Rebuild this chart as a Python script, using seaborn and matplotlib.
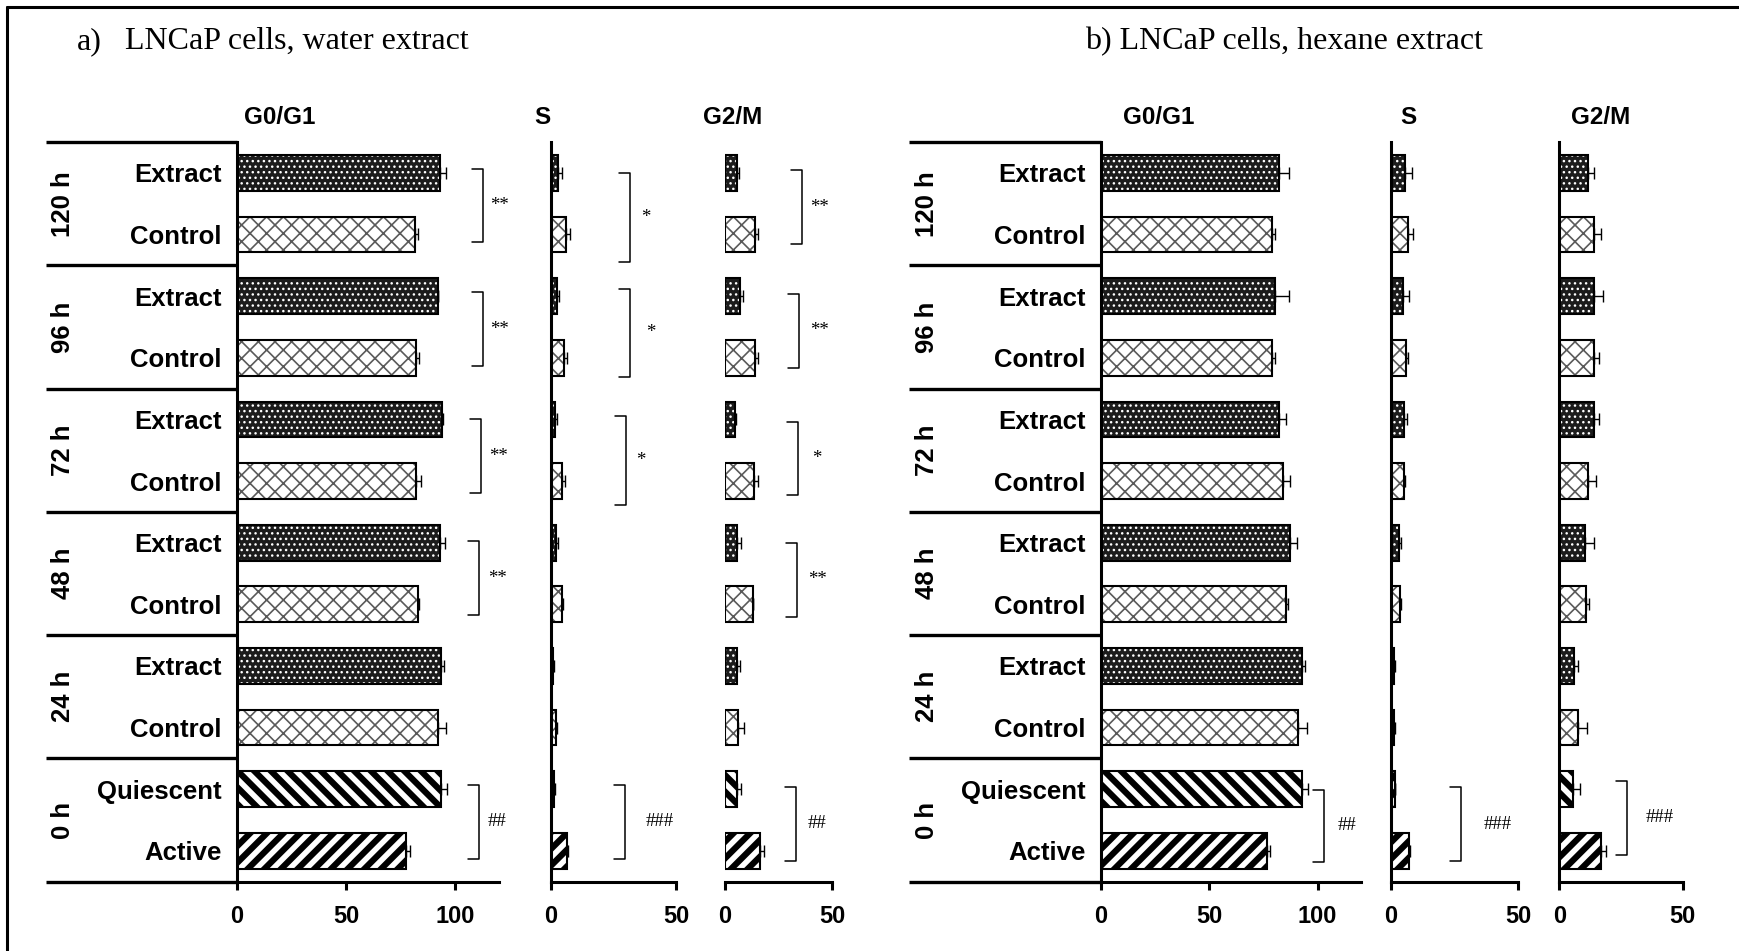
import numpy as np
import pandas as pd
import matplotlib
matplotlib.use("Agg")
import matplotlib.pyplot as plt
import matplotlib.transforms as mtransforms
from matplotlib.patches import Rectangle
import seaborn as sns

# ---------------------------------------------------------------- data
groups = ["120 h", "96 h", "72 h", "48 h", "24 h", "0 h"]
row_labels = ["Extract", "Control"] * 5 + ["Quiescent", "Active"]
row_kind = ["extract", "control"] * 5 + ["quiescent", "active"]
row_ids = [f"{groups[i // 2]} {row_labels[i]}" for i in range(12)]

# % of cells per phase (mean) and SD, rows ordered as row_ids
water_g0g1 = [93.2, 81.5, 92.1, 82.0, 94.2, 82.0, 93.2, 83.0, 93.7, 92.4, 93.7, 77.5]
water_g0g1_sd = [2.8, 1.7, 0.3, 1.5, 0.5, 2.3, 2.3, 0.5, 1.3, 3.5, 2.5, 1.8]
water_s = [2.8, 6.0, 2.4, 5.3, 1.5, 4.4, 2.0, 4.4, 0.9, 1.8, 1.3, 6.4]
water_s_sd = [1.7, 1.7, 0.8, 1.0, 0.9, 1.1, 0.9, 0.5, 0.3, 0.7, 0.4, 0.3]
water_g2m = [5.6, 14.0, 7.1, 13.9, 4.9, 13.4, 5.4, 12.9, 5.7, 6.2, 5.7, 16.5]
water_g2m_sd = [0.8, 1.5, 1.1, 1.7, 0.3, 2.0, 2.0, 0.3, 1.3, 2.6, 2.0, 1.8]

hexane_g0g1 = [82.0, 78.8, 80.5, 78.8, 82.0, 84.0, 87.4, 85.6, 92.8, 91.2, 93.0, 76.8]
hexane_g0g1_sd = [5.0, 1.7, 6.4, 1.7, 3.3, 3.3, 3.0, 0.8, 1.3, 4.0, 2.8, 1.3]
hexane_s = [5.4, 6.5, 4.7, 6.0, 5.1, 5.1, 3.3, 3.7, 1.2, 1.2, 1.4, 7.0]
hexane_s_sd = [2.7, 2.2, 2.5, 0.5, 1.2, 0.5, 0.5, 0.3, 0.3, 0.3, 0.3, 0.4]
hexane_g2m = [11.7, 13.9, 13.9, 14.1, 13.9, 11.6, 10.5, 10.9, 6.1, 7.7, 5.7, 16.8]
hexane_g2m_sd = [2.4, 3.0, 3.9, 2.0, 2.3, 3.2, 3.4, 1.1, 1.4, 3.6, 2.5, 2.0]

# significance brackets: (top row pos, bottom row pos, x, label, label x)
water_g0g1_sig = [(-0.06, 1.12, 112.8, "**", 116.1), (1.94, 3.13, 112.8, "**", 116.1),
                  (4.00, 5.19, 111.9, "**", 115.6), (5.98, 7.17, 111.2, "**", 115.1),
                  (9.93, 11.13, 111.2, "##", 115.1)]
water_s_sig = [(0.00, 1.44, 31.6, "*", 36.0), (1.88, 3.31, 31.6, "*", 38.0),
               (3.95, 5.39, 30.0, "*", 34.0), (9.93, 11.13, 29.6, "###", 37.8)]
water_g2m_sig = [(-0.04, 1.15, 35.8, "**", 39.7), (1.97, 3.16, 34.7, "**", 39.7),
                 (4.04, 5.23, 34.0, "*", 40.6), (6.01, 7.20, 33.5, "**", 38.7),
                 (9.96, 11.16, 33.0, "##", 38.7)]
hexane_g0g1_sig = [(10.01, 11.18, 103.2, "##", 109.4)]
hexane_s_sig = [(9.97, 11.16, 27.4, "###", 36.6)]
hexane_g2m_sig = [(9.87, 11.06, 27.3, "###", 35.1)]

# ---------------------------------------------------------------- style
W, H, DPI = 1739, 951, 100
sns.set_theme(style="white", rc={"axes.edgecolor": "black", "xtick.color": "black",
                                 "ytick.color": "black", "text.color": "black"})
plt.rcParams["font.family"] = ["Liberation Sans", "DejaVu Sans"]
plt.rcParams["font.weight"] = "bold"

fig = plt.figure(figsize=(W / DPI, H / DPI), dpi=DPI)
fig.patch.set_facecolor("white")

AX_TOP, AX_BOT = 142, 881.7          # pixel rows of the plotting band
bottom = 1 - AX_BOT / H
height = (AX_BOT - AX_TOP) / H
SPINE_LW = 2.2


def style_bar(ax, patch, kind):
    x, y = patch.get_xy()
    w, h = patch.get_width(), patch.get_height()
    if kind == "extract":
        patch.set_facecolor("#1c1c1c")
        patch.set_edgecolor("white")
        patch.set_hatch("...")
        hlw = 1.0
    elif kind == "control":
        patch.set_facecolor("white")
        patch.set_edgecolor("#5a5a5a")
        patch.set_hatch("xx")
        hlw = 1.2
    elif kind == "quiescent":
        patch.set_facecolor("white")
        patch.set_edgecolor("black")
        patch.set_hatch("\\\\")
        hlw = 4.5
    else:
        patch.set_facecolor("white")
        patch.set_edgecolor("black")
        patch.set_hatch("//")
        hlw = 4.5
    if hasattr(patch, "set_hatch_linewidth"):
        patch.set_hatch_linewidth(hlw)
    patch.set_linewidth(0)
    ax.add_patch(Rectangle((x, y), w, h, fill=False, edgecolor="black",
                           linewidth=1.5, zorder=3))


def phase_axes(left_px, unit_px, xmax, ticks, values, errors, sig,
               show_left=True, table=None):
    ax = fig.add_axes([left_px / W, bottom, unit_px * xmax / W, height])
    df = pd.DataFrame({"row": row_ids, "pct": values})
    sns.barplot(data=df, x="pct", y="row", order=row_ids, orient="h",
                width=0.58, errorbar=None, color="white", ax=ax, zorder=2)
    bars = list(ax.patches)
    for patch, kind in zip(bars, row_kind):
        style_bar(ax, patch, kind)
    ypos = np.arange(len(values))
    ax.errorbar(values, ypos, xerr=[np.zeros(len(values)), errors], fmt="none",
                ecolor="black", elinewidth=1.0, capsize=4, capthick=1.0, zorder=4)

    ax.set_xlim(0, xmax)
    ax.set_ylim(11.5, -0.5)
    ax.set_xlabel("")
    ax.set_ylabel("")
    ax.set_xticks(ticks)
    ax.set_xticklabels([str(t) for t in ticks], fontsize=17, fontweight="bold")
    ax.tick_params(axis="x", direction="out", length=6, width=SPINE_LW, pad=11,
                   bottom=True)
    for side in ("top", "right"):
        ax.spines[side].set_visible(False)
    ax.spines["left"].set_visible(show_left)
    for side in ("left", "bottom"):
        ax.spines[side].set_linewidth(SPINE_LW)
        ax.spines[side].set_color("black")

    if table is None:
        ax.set_yticks([])
    else:
        ax.set_yticks(ypos)
        ax.set_yticklabels(row_labels, fontsize=18.5, fontweight="bold")
        ax.tick_params(axis="y", length=0, pad=11)
        tab_left_px, grp_x_px = table
        blend = mtransforms.blended_transform_factory(fig.transFigure, ax.transData)
        for yb in [-0.5, 1.5, 3.5, 5.5, 7.5, 9.5, 11.5]:
            ax.plot([tab_left_px / W, left_px / W], [yb, yb], transform=blend,
                    color="black", lw=2.4, clip_on=False, solid_capstyle="butt")
        for gi, g in enumerate(groups):
            ax.text(grp_x_px / W, 2 * gi + 0.5, g, transform=blend, rotation=90,
                    ha="center", va="center", fontsize=18.5, fontweight="bold")

    arm = 11 / unit_px
    for y0, y1, x, label, tx in sig:
        ax.plot([x - arm, x, x, x - arm], [y0, y0, y1, y1], color="black",
                lw=1.1, clip_on=False, zorder=5)
        ax.text(tx, (y0 + y1) / 2, label, ha="left", va="center", fontsize=13.5,
                fontweight="normal", family=["Liberation Serif", "DejaVu Serif"])
    return ax


# ---------------------------------------------------------------- panel a
phase_axes(237, 2.18, 120, [0, 50, 100], water_g0g1, water_g0g1_sd,
           water_g0g1_sig, table=(46, 63))
phase_axes(551, 2.50, 50, [0, 50], water_s, water_s_sd, water_s_sig)
phase_axes(725, 2.14, 50, [0, 50], water_g2m, water_g2m_sd, water_g2m_sig,
           show_left=False)

# ---------------------------------------------------------------- panel b
phase_axes(1101, 2.165, 120, [0, 50, 100], hexane_g0g1, hexane_g0g1_sd,
           hexane_g0g1_sig, table=(909, 927))
phase_axes(1391, 2.54, 50, [0, 50], hexane_s, hexane_s_sd, hexane_s_sig)
phase_axes(1559.3, 2.468, 50, [0, 50], hexane_g2m, hexane_g2m_sd, hexane_g2m_sig)

# ---------------------------------------------------------------- headings
for label, xc in [("G0/G1", 280), ("S", 542), ("G2/M", 733),
                  ("G0/G1", 1159), ("S", 1408), ("G2/M", 1600.5)]:
    fig.text(xc / W, 1 - 118 / H, label, ha="center", va="center",
             fontsize=17.5, fontweight="bold")

serif = ["Liberation Serif", "DejaVu Serif"]
fig.text(77 / W, 1 - 49 / H, "a)", ha="left", va="baseline", fontsize=23,
         fontweight="normal", family=serif)
fig.text(125 / W, 1 - 49 / H, "LNCaP cells, water extract", ha="left",
         va="baseline", fontsize=23, fontweight="normal", family=serif)
fig.text(1085 / W, 1 - 49 / H, "b) LNCaP cells, hexane extract", ha="left",
         va="baseline", fontsize=23, fontweight="normal", family=serif)

# outer frame (top and left edges)
fig.add_artist(plt.Line2D([7 / W, 1.0], [1 - 6.5 / H, 1 - 6.5 / H],
                          transform=fig.transFigure, color="black", lw=2.2))
fig.add_artist(plt.Line2D([7 / W, 7 / W], [0.0, 1 - 6.5 / H],
                          transform=fig.transFigure, color="black", lw=2.2))

fig.savefig("out.png", dpi=DPI, facecolor="white")
